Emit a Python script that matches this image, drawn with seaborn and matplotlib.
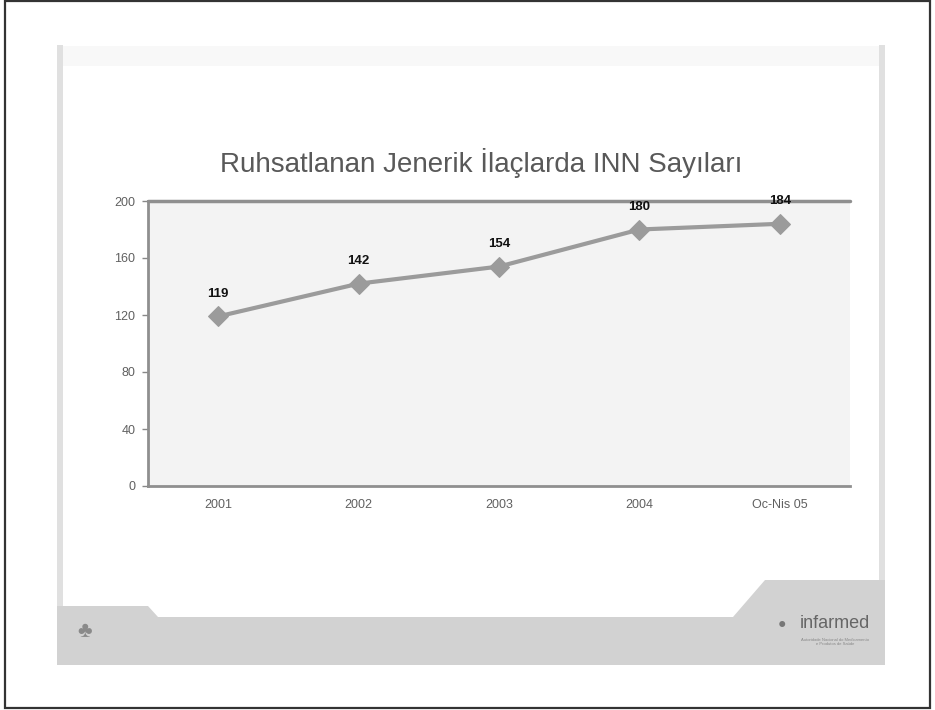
import matplotlib
matplotlib.use("Agg")
import matplotlib.pyplot as plt
from matplotlib.patches import Rectangle, Polygon
import seaborn as sns
import pandas as pd
from matplotlib import font_manager

periods = ["2001", "2002", "2003", "2004", "Oc-Nis 05"]
inn_counts = [119, 142, 154, 180, 184]
y_ticks = [0, 40, 80, 120, 160, 200]
title = "Ruhsatlanan Jenerik İlaçlarda INN Sayıları"

sns.set_theme(style="white")
plt.rcParams["font.family"] = ["Liberation Sans", "DejaVu Sans"]

names = {f.name for f in font_manager.fontManager.ttflist}
title_font = "Liberation Sans Narrow" if "Liberation Sans Narrow" in names else "Liberation Sans"

W, H = 935, 710
fig = plt.figure(figsize=(W / 100, H / 100), dpi=100)
fig.patch.set_facecolor("white")


def fx(px):
    return px / W


def fy(py):
    return 1 - py / H


# outer frame
fig.patches.append(Rectangle((fx(5), fy(708)), fx(925), 707 / H, transform=fig.transFigure,
                             fill=False, edgecolor="#333333", linewidth=1.6))

# slide side stripes
fig.patches.append(Rectangle((fx(57), fy(665)), fx(6), 620 / H, transform=fig.transFigure,
                             facecolor="#e0e0e0", edgecolor="none"))
fig.patches.append(Rectangle((fx(879), fy(665)), fx(6), 620 / H, transform=fig.transFigure,
                             facecolor="#e0e0e0", edgecolor="none"))
# faint header strip
fig.patches.append(Rectangle((fx(63), fy(66)), fx(816), 20 / H, transform=fig.transFigure,
                             facecolor="#f8f8f8", edgecolor="none"))

# footer band with notches
band = [(57, 665), (57, 606), (148, 606), (158, 617), (733, 617), (765, 580),
        (885, 580), (885, 665)]
fig.patches.append(Polygon([(fx(x), fy(y)) for x, y in band], closed=True,
                           transform=fig.transFigure, facecolor="#d2d2d2", edgecolor="none"))

fig.text(fx(85), fy(632), "♣", fontsize=16, color="#8a8a8a", ha="center", va="center")
fig.text(fx(835), fy(624), "infarmed", fontsize=13, color="#666666", ha="center", va="center",
         family=["Liberation Sans", "DejaVu Sans"])
fig.text(fx(782), fy(624), "●", fontsize=10, color="#777777", ha="center", va="center")
fig.text(fx(835), fy(642), "Autoridade Nacional do Medicamento\ne Produtos de Saúde",
         fontsize=3, color="#888888", ha="center", va="center", linespacing=1.2)

fig.text(fx(481), fy(163), title, fontsize=20, color="#595959", ha="center", va="center",
         family=[title_font, "DejaVu Sans"])

ax = fig.add_axes([fx(148), fy(486), fx(850 - 148), (486 - 201) / H])
ax.set_facecolor("#f3f3f3")

df = pd.DataFrame({"period": periods, "count": inn_counts})
sns.lineplot(data=df, x="period", y="count", ax=ax, color="#9b9b9b", linewidth=3,
             marker="D", markersize=10, markeredgecolor="#9b9b9b", sort=False)

for i, v in enumerate(inn_counts):
    ax.annotate(str(v), (i, v), xytext=(0, 12), textcoords="offset points", ha="center",
                va="bottom", fontsize=9.5, fontweight="bold", color="#111111")

ax.set_xlim(-0.5, len(periods) - 0.5)
ax.set_ylim(0, 200)
ax.set_yticks(y_ticks)
ax.set_yticklabels([str(t) for t in y_ticks])
ax.set_xticks(range(len(periods)))
ax.set_xticklabels(periods)
ax.set_xticks([i - 0.5 for i in range(len(periods) + 1)], minor=True)
ax.tick_params(axis="x", which="major", length=0, pad=9, labelsize=9, labelcolor="#606060")
ax.tick_params(axis="x", which="minor", length=4, width=1, color="#888888", direction="out")
ax.tick_params(axis="y", length=4, width=1, color="#888888", direction="out", pad=5,
               labelsize=9, labelcolor="#606060", left=True)
ax.set_xlabel("")
ax.set_ylabel("")
ax.axhline(200, color="#8f8f8f", linewidth=2.5, zorder=1, clip_on=False)
for side in ["top", "right"]:
    ax.spines[side].set_visible(False)
for side in ["left", "bottom"]:
    ax.spines[side].set_color("#8f8f8f")
    ax.spines[side].set_linewidth(2)

fig.savefig("out.png", dpi=100, facecolor="white")
